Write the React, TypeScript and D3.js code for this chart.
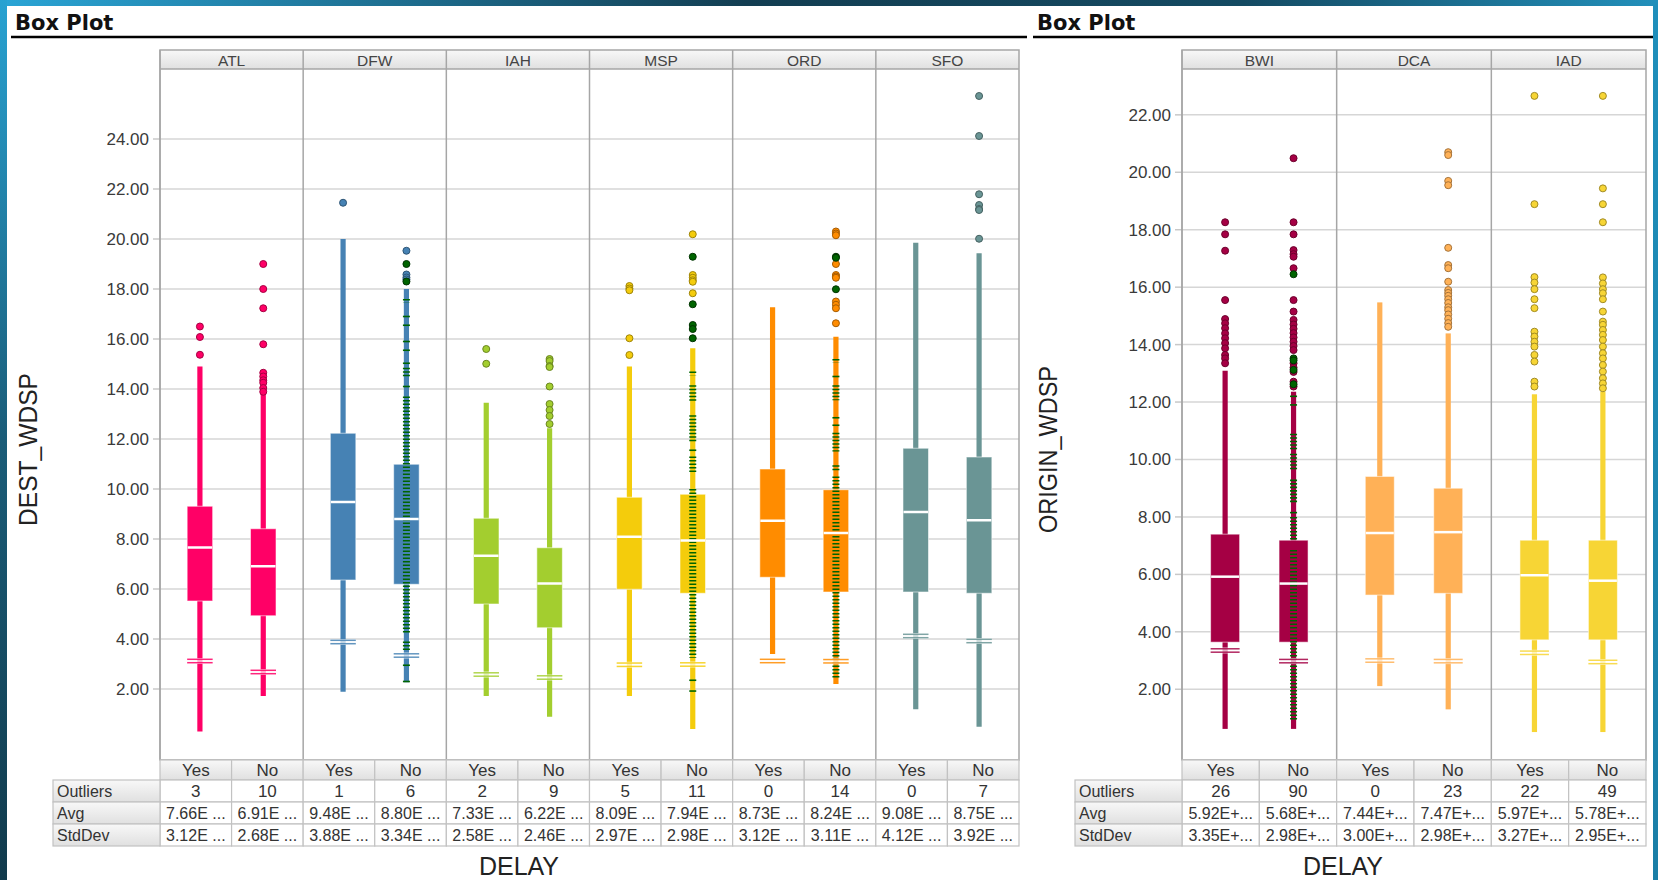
import React from "react";
import * as d3 from "d3";

const FONT = "'Liberation Sans', Arial, sans-serif";
const delays = ["Yes", "No"];
const rowNames = ["Outliers", "Avg", "StdDev"];

// ---- left panel: DEST_WDSP by destination ----
const leftAirports = ["ATL", "DFW", "IAH", "MSP", "ORD", "SFO"];
const leftColors = ["#FF0066", "#4682B4", "#A3CE2F", "#F4CC0C", "#FF8C00", "#6A9595"];
const leftTicks = [2, 4, 6, 8, 10, 12, 14, 16, 18, 20, 22, 24];
// box order: ATL Yes, ATL No, DFW Yes, DFW No, ...
const leftLow = [0.3, 1.72, 1.89, 2.27, 1.72, 0.89, 1.72, 0.4, 3.4, 2.2, 1.19, 0.49];
const leftQ1 = [5.52, 4.93, 6.36, 6.19, 5.4, 4.45, 5.99, 5.83, 6.47, 5.88, 5.88, 5.83];
const leftQ3 = [9.31, 8.41, 12.23, 10.99, 8.83, 7.65, 9.67, 9.79, 10.8, 9.97, 11.63, 11.28];
const leftHigh = [14.9, 13.8, 20.0, 18.0, 13.45, 12.43, 14.9, 15.63, 17.27, 16.09, 19.85, 19.43];
const leftAvg = [7.66, 6.91, 9.48, 8.8, 7.33, 6.22, 8.09, 7.94, 8.73, 8.24, 9.08, 8.75];
const leftStd = [3.12, 2.68, 3.88, 3.34, 2.58, 2.46, 2.97, 2.98, 3.12, 3.11, 4.12, 3.92];
const leftOutlierCount = [3, 10, 1, 6, 2, 9, 5, 11, 0, 14, 0, 7];
const leftOutliers = [
  [16.5, 16.08, 15.37],
  [19.0, 18.0, 17.23, 15.79, 14.65, 14.5, 14.35, 14.25, 14.04, 13.89],
  [21.45],
  [19.53, 18.58, 18.46, 18.38],
  [15.6, 15.01],
  [15.2, 15.12, 14.92, 14.88, 14.1, 13.4, 13.16, 12.92, 12.6],
  [18.12, 18.02, 17.95, 16.03, 15.36],
  [20.19, 18.56, 18.45, 18.35, 18.29, 17.83],
  [],
  [20.3, 20.22, 20.15, 19.0, 18.56, 18.5, 18.45, 17.5, 17.37, 17.23, 16.63],
  [],
  [25.72, 24.12, 21.79, 21.36, 21.2, 21.16, 20.01],
];
const leftGreenOutliers = [
  [], [], [], [19.0, 18.3], [], [], [], [19.29, 17.39, 16.56, 16.4, 16.03], [], [19.29, 19.25, 17.99], [], [],
];
const leftGreenRuns = [
  [], [], [],
  [[17.45, 17.6], [16.9, 16.9], [16.55, 16.55], [15.9, 15.9], [15.55, 15.55], [15.03, 15.03], [14.45, 14.85], [14.1, 14.1], [4.25, 13.7], [3.5, 3.9], [2.95, 2.95], [2.3, 2.3]],
  [], [], [],
  [[14.55, 14.7], [13.45, 14.15], [11.85, 12.95], [11.55, 11.55], [10.65, 11.3], [3.25, 10.0], [2.35, 2.35], [1.85, 1.95]],
  [],
  [[15.05, 15.2], [14.5, 14.5], [13.55, 14.15], [12.85, 12.85], [12.55, 12.55], [11.5, 12.25], [10.75, 10.95], [2.45, 10.5]],
  [], [],
];

// ---- right panel: ORIGIN_WDSP by origin ----
const rightAirports = ["BWI", "DCA", "IAD"];
const rightColors = ["#A50044", "#FFB157", "#F7D535"];
const rightTicks = [2, 4, 6, 8, 10, 12, 14, 16, 18, 20, 22];
const rightLow = [0.62, 0.62, 2.11, 1.3, 0.51, 0.51];
const rightQ1 = [3.64, 3.64, 5.28, 5.34, 3.72, 3.72];
const rightQ3 = [7.4, 7.19, 9.41, 9.0, 7.19, 7.19];
const rightHigh = [13.09, 12.36, 15.47, 14.39, 12.27, 12.36];
const rightAvg = [5.92, 5.68, 7.44, 7.47, 5.97, 5.78];
const rightStd = [3.35, 2.98, 3.0, 2.98, 3.27, 2.95];
const rightOutlierCount = [26, 90, 0, 23, 22, 49];
const rightOutliers = [
  [18.26, 17.84, 17.27, 15.55, 14.89, 14.74, 14.57, 14.39, 14.22, 14.05, 13.87, 13.64, 13.52, 13.35],
  [20.49, 18.26, 17.84, 17.29, 17.15, 17.06, 16.66, 15.55, 15.15, 14.86, 14.7, 14.55, 14.4, 14.25, 14.1, 13.95, 13.81, 13.35, 13.2, 13.05, 12.71, 12.54],
  [],
  [20.7, 20.6, 19.7, 19.55, 17.37, 16.77, 16.66, 16.19, 15.9, 15.8, 15.7, 15.58, 15.45, 15.3, 15.2, 15.05, 14.9, 14.75, 14.62],
  [22.66, 18.89, 16.35, 16.16, 15.93, 15.58, 15.27, 14.45, 14.28, 14.1, 13.93, 13.64, 13.41, 12.71, 12.54],
  [22.66, 19.44, 18.89, 18.26, 16.34, 16.13, 15.93, 15.79, 15.58, 15.15, 14.8, 14.69, 14.51, 14.34, 14.16, 13.93, 13.7, 13.52, 13.29, 13.06, 12.83, 12.65, 12.48],
];
const rightGreenOutliers = [[], [16.45, 13.52, 13.45, 13.12, 12.62], [], [], [], []];
const rightGreenRuns = [
  [],
  [[12.2, 12.2], [11.9, 11.9], [10.3, 10.9], [9.6, 10.2], [8.5, 9.3], [8.15, 8.15], [7.2, 8.0], [0.9, 6.85]],
  [], [], [], [],
];

const HEADER_TOP = 50;
const PLOT_TOP = 69;
const PLOT_BOTTOM = 760;
const ROW_Y = [760, 780, 802, 824, 846];
const GREEN = "#006400";

const panels = [
  {
    id: "l", cats: leftAirports, colors: leftColors, ticks: leftTicks,
    low: leftLow, q1: leftQ1, q3: leftQ3, high: leftHigh, avg: leftAvg, std: leftStd,
    count: leftOutlierCount, outliers: leftOutliers, green: leftGreenOutliers, runs: leftGreenRuns,
    x0: 160, x1: 1019, yDomain: [-0.84, 26.8], boxW: 25.5,
    titleX: 15, lineX0: 11, lineX1: 1027, tableX: 53, axisLabel: "DEST_WDSP", axisX: 28, axisLen: 153,
    delayX: 519, fmt: (v: number) => `${v.toFixed(2)}E ...`,
  },
  {
    id: "r", cats: rightAirports, colors: rightColors, ticks: rightTicks,
    low: rightLow, q1: rightQ1, q3: rightQ3, high: rightHigh, avg: rightAvg, std: rightStd,
    count: rightOutlierCount, outliers: rightOutliers, green: rightGreenOutliers, runs: rightGreenRuns,
    x0: 1182, x1: 1646, yDomain: [-0.463, 23.596], boxW: 29,
    titleX: 1037, lineX0: 1033, lineX1: 1653, tableX: 1075, axisLabel: "ORIGIN_WDSP", axisX: 1048, axisLen: 167,
    delayX: 1343, fmt: (v: number) => `${v.toFixed(2)}E+...`,
  },
];

function Panel({ p }: { p: any }) {
  const fx = d3.scaleBand<string>().domain(p.cats).range([p.x0, p.x1]);
  const W = fx.bandwidth();
  const sub = d3.scalePoint<string>().domain(delays).range([0, W]).padding(0.63);
  const col = d3.scaleBand<string>().domain(delays).range([0, W]);
  const y = d3.scaleLinear().domain(p.yDomain).range([PLOT_BOTTOM, PLOT_TOP]);
  const bw = p.boxW;

  const boxes = p.cats.flatMap((c: string, i: number) =>
    delays.map((d, j) => ({
      key: `${c}-${d}`,
      i: i * 2 + j,
      color: p.colors[i],
      cx: (fx(c) as number) + (sub(d) as number),
      colX: (fx(c) as number) + (col(d) as number),
    }))
  );
  const colW = col.bandwidth();

  return (
    <g>
      {/* title */}
      <text x={p.titleX} y={30} fontFamily="'DejaVu Sans', sans-serif" fontWeight="bold" fontSize={21} fill="#111">
        Box Plot
      </text>
      <line x1={p.lineX0} x2={p.lineX1} y1={37} y2={37} stroke="#000" strokeWidth={2.5} />

      {/* grid + y axis */}
      {p.ticks.map((t: number) => (
        <g key={t}>
          <line x1={p.x0} x2={p.x1} y1={y(t)} y2={y(t)} stroke="#d6d6d6" strokeWidth={1.5} />
          <line x1={p.x0 - 7} x2={p.x0} y1={y(t)} y2={y(t)} stroke="#c8c8c8" strokeWidth={1.5} />
          <text x={p.x0 - 11} y={y(t)} dy="0.35em" textAnchor="end" fontFamily={FONT} fontSize={17} fill="#3a3a3a">
            {t.toFixed(2)}
          </text>
        </g>
      ))}

      {/* facet headers */}
      {p.cats.map((c: string) => (
        <g key={c}>
          <rect x={fx(c)} y={HEADER_TOP} width={W} height={PLOT_TOP - HEADER_TOP} fill="url(#hdr)" />
          <text x={(fx(c) as number) + W / 2} y={HEADER_TOP + 10} dy="0.36em" textAnchor="middle" fontFamily={FONT} fontSize={15.5} fill="#444">
            {c}
          </text>
          <line x1={fx(c)} x2={fx(c)} y1={HEADER_TOP} y2={PLOT_BOTTOM} stroke="#a6a6a6" strokeWidth={1.5} />
        </g>
      ))}
      <line x1={p.x0} x2={p.x1} y1={PLOT_TOP} y2={PLOT_TOP} stroke="#a6a6a6" strokeWidth={1.5} />

      {/* boxes */}
      {boxes.map((b: any) => {
        const i = b.i;
        return (
          <g key={b.key}>
            <rect x={b.cx - 2.6} width={5.2} y={y(p.high[i])} height={y(p.low[i]) - y(p.high[i])} fill={b.color} />
            <rect
              x={b.cx - bw / 2}
              width={bw}
              y={y(p.q3[i])}
              height={y(p.q1[i]) - y(p.q3[i])}
              fill={b.color}
              stroke="rgba(255,255,255,0.55)"
              strokeWidth={1}
            />
            {p.runs[i].map((r: number[], k: number) =>
              r[0] === r[1] ? (
                <rect key={k} x={b.cx - 3.5} width={7} y={y(r[0]) - 0.8} height={1.6} fill={GREEN} />
              ) : (
                <line key={k} x1={b.cx} x2={b.cx} y1={y(r[1])} y2={y(r[0])} stroke={GREEN} strokeWidth={7} strokeDasharray="1.6 1.9" />
              )
            )}
            <line x1={b.cx - bw / 2 + 0.5} x2={b.cx + bw / 2 - 0.5} y1={y(p.avg[i])} y2={y(p.avg[i])} stroke="#fff" strokeWidth={2.5} />
            <rect x={b.cx - bw / 2} width={bw} y={y(p.std[i]) - 3} height={6} fill="#fff" opacity={0.7} />
            <line x1={b.cx - bw / 2} x2={b.cx + bw / 2} y1={y(p.std[i]) - 1.7} y2={y(p.std[i]) - 1.7} stroke={b.color} strokeOpacity={0.85} strokeWidth={1.5} />
            <line x1={b.cx - bw / 2} x2={b.cx + bw / 2} y1={y(p.std[i]) + 1.7} y2={y(p.std[i]) + 1.7} stroke={b.color} strokeOpacity={0.85} strokeWidth={1.5} />
            {p.outliers[i].map((v: number, k: number) => (
              <circle key={`o${k}`} cx={b.cx} cy={y(v)} r={3.5} fill={b.color} stroke={d3.color(b.color)!.darker(1.2).formatHex()} strokeWidth={1} />
            ))}
            {p.green[i].map((v: number, k: number) => (
              <circle key={`g${k}`} cx={b.cx} cy={y(v)} r={3.5} fill={GREEN} stroke="#003300" strokeWidth={1} />
            ))}
          </g>
        );
      })}

      {/* plot border */}
      <rect x={p.x0} y={HEADER_TOP} width={p.x1 - p.x0} height={PLOT_BOTTOM - HEADER_TOP} fill="none" stroke="#a6a6a6" strokeWidth={1.5} />

      {/* table */}
      {boxes.map((b: any) => (
        <g key={`t-${b.key}`}>
          <rect x={b.colX} y={ROW_Y[0]} width={colW} height={ROW_Y[1] - ROW_Y[0]} fill="url(#hdr)" stroke="#c2c2c2" strokeWidth={1.2} />
          <text x={b.colX + colW / 2} y={(ROW_Y[0] + ROW_Y[1]) / 2} dy="0.36em" textAnchor="middle" fontFamily={FONT} fontSize={17} fill="#333">
            {delays[b.i % 2]}
          </text>
          {[String(p.count[b.i]), p.fmt(p.avg[b.i]), p.fmt(p.std[b.i])].map((s: string, r: number) => (
            <g key={r}>
              <rect x={b.colX} y={ROW_Y[r + 1]} width={colW} height={ROW_Y[r + 2] - ROW_Y[r + 1]} fill="#fff" stroke="#c2c2c2" strokeWidth={1.2} />
              <text
                x={b.colX + colW / 2}
                y={(ROW_Y[r + 1] + ROW_Y[r + 2]) / 2}
                dy="0.36em"
                textAnchor="middle"
                fontFamily={FONT}
                fontSize={r === 0 ? 17 : 16}
                fill="#333"
              >
                {s}
              </text>
            </g>
          ))}
        </g>
      ))}
      {rowNames.map((n, r) => (
        <g key={n}>
          <rect x={p.tableX} y={ROW_Y[r + 1]} width={p.x0 - p.tableX} height={ROW_Y[r + 2] - ROW_Y[r + 1]} fill="url(#hdr)" stroke="#c2c2c2" strokeWidth={1.2} />
          <text x={p.tableX + 4} y={(ROW_Y[r + 1] + ROW_Y[r + 2]) / 2} dy="0.36em" fontFamily={FONT} fontSize={16} fill="#333">
            {n}
          </text>
        </g>
      ))}

      {/* axis titles */}
      <text
        transform={`translate(${p.axisX + 9},${(PLOT_TOP + PLOT_BOTTOM) / 2 + 35}) rotate(-90)`}
        textAnchor="middle"
        fontFamily={FONT}
        fontSize={25}
        fill="#222"
        textLength={p.axisLen}
        lengthAdjust="spacingAndGlyphs"
      >
        {p.axisLabel}
      </text>
      <text x={p.delayX} y={875} textAnchor="middle" fontFamily={FONT} fontSize={25} fill="#222">
        DELAY
      </text>
    </g>
  );
}

export default function App() {
  const width = 1658;
  const height = 880;
  return (
    <div style={{ position: "fixed", left: 0, top: 0 }}>
      <svg width={width} height={height} style={{ display: "block" }}>
        <defs>
          <linearGradient id="hdr" x1="0" y1="0" x2="0" y2="1">
            <stop offset="0" stopColor="#f8f8f8" />
            <stop offset="1" stopColor="#e0e0e0" />
          </linearGradient>
          <linearGradient id="topStrip" x1="0" y1="0" x2="1" y2="0">
            <stop offset="0" stopColor="#2aa5d6" />
            <stop offset="0.45" stopColor="#133e52" />
            <stop offset="0.75" stopColor="#144a62" />
            <stop offset="1" stopColor="#2290bb" />
          </linearGradient>
          <linearGradient id="leftStrip" x1="0" y1="0" x2="0" y2="1">
            <stop offset="0" stopColor="#28a2d2" />
            <stop offset="0.5" stopColor="#1a5c78" />
            <stop offset="1" stopColor="#113a4c" />
          </linearGradient>
          <linearGradient id="rightStrip" x1="0" y1="0" x2="0" y2="1">
            <stop offset="0" stopColor="#1f8fbb" />
            <stop offset="1" stopColor="#1a7ea6" />
          </linearGradient>
        </defs>
        <rect width={width} height={height} fill="#fff" />
        <rect x={0} y={0} width={width} height={6} fill="url(#topStrip)" />
        <rect x={0} y={0} width={7} height={height} fill="url(#leftStrip)" />
        <rect x={1653} y={0} width={5} height={height} fill="url(#rightStrip)" />
        {panels.map((p) => (
          <Panel key={p.id} p={p} />
        ))}
      </svg>
    </div>
  );
}
